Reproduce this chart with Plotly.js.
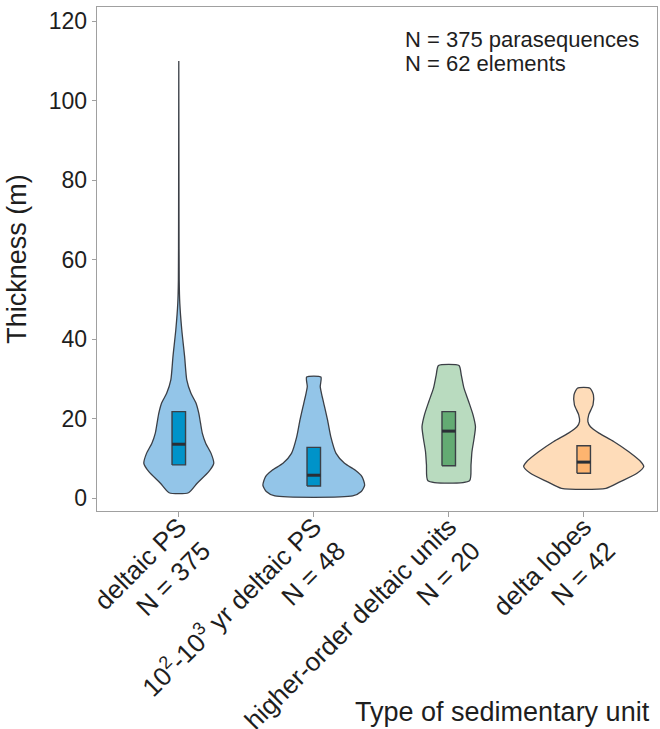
<!DOCTYPE html>
<html>
<head>
<meta charset="utf-8">
<script src="https://cdn.plot.ly/plotly-3.0.1.min.js"></script>
<style>html,body{margin:0;padding:0;background:#fff;}#chart{width:660px;height:729px;}</style>
</head>
<body>
<div id="chart"></div>
<script>
// Categories and tick labels
var categories = ["deltaic PS", "10^2-10^3 yr deltaic PS", "higher-order deltaic units", "delta lobes"];
var tickLabels = [
  "deltaic PS<br>N = 375",
  "10<sup>2</sup>-10<sup>3</sup> yr deltaic PS<br>N = 48",
  "higher-order deltaic units<br>N = 20",
  "delta lobes<br>N = 42"
];
var noteLines = ["N = 375 parasequences", "N = 62 elements"];

// Violin outlines: thickness levels (m) and half-width (category units)
var deltaicThick = [1.4, 3.8, 6.7, 8.8, 11.3, 13.8, 16.4, 18.9, 21.4, 23.9, 26.4, 29.8, 35.7, 42.4, 49.1, 55, 70, 90, 110];
var deltaicWidth = [0.072, 0.136, 0.222, 0.259, 0.239, 0.200, 0.174, 0.161, 0.148, 0.128, 0.090, 0.059, 0.043, 0.022, 0.0074, 0.003, 0.0015, 0.0007, 0];

var yrThick = [0.6, 1.7, 3.3, 5.4, 7.1, 8.8, 11.3, 15.5, 19.7, 23.9, 26.4, 28.1, 30.5];
var yrWidth = [0.288, 0.352, 0.377, 0.358, 0.306, 0.228, 0.165, 0.126, 0.102, 0.074, 0.057, 0.048, 0.053];

var higherThick = [4.4, 8.4, 11.7, 15.1, 18.0, 21.0, 24.3, 27.7, 31.0, 33.4];
var higherWidth = [0.154, 0.165, 0.172, 0.188, 0.198, 0.180, 0.148, 0.113, 0.093, 0.076];

var lobesThick = [2.5, 4.2, 6.3, 8.0, 9.2, 11.7, 14.3, 16.4, 18.0, 19.3, 21.0, 23.5, 26.0, 27.7];
var lobesWidth = [0.165, 0.272, 0.395, 0.445, 0.423, 0.334, 0.222, 0.113, 0.050, 0.031, 0.037, 0.069, 0.072, 0.047];

// Box statistics (m)
var q1 = [8.4, 3.1, 8.2, 6.3];
var median = [13.6, 5.8, 16.9, 9.1];
var q3 = [21.8, 12.8, 21.8, 13.2];

// Styles
var violinFill = ["#93c5e8", "#93c5e8", "#b9dbbf", "#fedcb9"];
var boxFill = ["#0093c9", "#0093c9", "#63ab73", "#fdb46f"];
var outline = "#3b3f46";

var profiles = [
  [deltaicThick, deltaicWidth],
  [yrThick, yrWidth],
  [higherThick, higherWidth],
  [lobesThick, lobesWidth]
];
var positions = [1, 2, 3, 4];
var boxHalf = 0.05;

var traces = [];
profiles.forEach(function (p, i) {
  var t = p[0], w = p[1], c = positions[i];
  var xs = [], ys = [];
  for (var k = 0; k < t.length; k++) { xs.push(c + w[k]); ys.push(t[k]); }
  for (var k = t.length - 1; k >= 0; k--) { xs.push(c - w[k]); ys.push(t[k]); }
  xs.push(xs[0]); ys.push(ys[0]);
  traces.push({
    type: "scatter", mode: "lines", x: xs, y: ys,
    fill: "toself", fillcolor: violinFill[i],
    line: {color: outline, width: 1.3, shape: "spline", smoothing: 0.6},
    hoverinfo: "skip", showlegend: false
  });
});
positions.forEach(function (c, i) {
  traces.push({
    type: "scatter", mode: "lines",
    x: [c - boxHalf, c + boxHalf, c + boxHalf, c - boxHalf, c - boxHalf],
    y: [q1[i], q1[i], q3[i], q3[i], q1[i]],
    fill: "toself", fillcolor: boxFill[i],
    line: {color: outline, width: 1.4},
    hoverinfo: "skip", showlegend: false
  });
  traces.push({
    type: "scatter", mode: "lines",
    x: [c - boxHalf, c + boxHalf], y: [median[i], median[i]],
    line: {color: "#2a2f36", width: 3},
    hoverinfo: "skip", showlegend: false
  });
});

var fontFam = "Liberation Sans, Arial, sans-serif";
var txt = "#1e1e1e";
var layout = {
  width: 660, height: 729,
  margin: {l: 97, r: 3, t: 7, b: 218},
  paper_bgcolor: "#ffffff", plot_bgcolor: "#ffffff",
  font: {family: fontFam, color: txt, size: 22},
  showlegend: false,
  xaxis: {
    range: [0.394, 4.543],
    tickmode: "array", tickvals: positions, ticktext: tickLabels,
    tickangle: -45,
    tickfont: {size: 26, color: txt},
    ticklabelstandoff: -16,
    ticks: "outside", ticklen: 5, tickcolor: "#a0a0a0", tickwidth: 1,
    showline: true, linecolor: "#a0a0a0", linewidth: 1.3, mirror: true,
    showgrid: false, zeroline: false
  },
  yaxis: {
    range: [-3.2, 123.6],
    tickmode: "linear", tick0: 0, dtick: 20,
    tickfont: {size: 23, color: txt},
    ticks: "outside", ticklen: 4, tickcolor: "#a0a0a0", tickwidth: 1,
    showline: true, linecolor: "#a0a0a0", linewidth: 1.3, mirror: true,
    showgrid: false, zeroline: false,
    title: {text: "Thickness (m)", font: {size: 27, color: txt}, standoff: 14}
  },
  annotations: [
    {xref: "paper", yref: "paper", x: 0.546, y: 0.935, xanchor: "left", yanchor: "middle",
     text: noteLines[0], showarrow: false, font: {size: 22, color: txt}},
    {xref: "paper", yref: "paper", x: 0.546, y: 0.887, xanchor: "left", yanchor: "middle",
     text: noteLines[1], showarrow: false, font: {size: 22, color: txt}},
    {xref: "paper", yref: "paper", x: 0.991, y: -0.398, xanchor: "right", yanchor: "middle",
     text: "Type of sedimentary unit", showarrow: false, font: {size: 27, color: txt}}
  ]
};

Plotly.newPlot("chart", traces, layout, {staticPlot: true, displayModeBar: false});
</script>
</body>
</html>
